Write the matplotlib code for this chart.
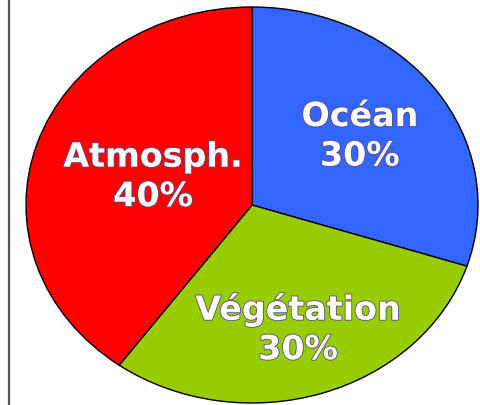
import numpy as np
import matplotlib
matplotlib.use('AGG')
import matplotlib.pyplot as plt
import matplotlib.patheffects as pe
from matplotlib.lines import Line2D

# data
labels = ['Océan', 'Végétation', 'Atmosph.']
shares = [30, 30, 40]
colors = ['#3366ff', '#99cc00', '#ff0000']
label_dist = [0.59, 0.66, 0.46]   # how far from the centre each label sits

fig = plt.figure(figsize=(4.81, 4.05), dpi=100)
ax = fig.add_axes([0, 0, 1, 1])

wedges, _ = ax.pie(shares, colors=colors, startangle=90, counterclock=False,
                   wedgeprops=dict(edgecolor='black', linewidth=1.0))
ax.set_aspect('auto')
# stretch the pie into an ellipse, like the original
ax.set_xlim(-252 / 226, (481 - 252) / 226)
ax.set_ylim(-(405 - 205) / 198, 205 / 198)
ax.axis('off')

for w, lab, s, d in zip(wedges, labels, shares, label_dist):
    mid = np.deg2rad((w.theta1 + w.theta2) / 2)
    ax.text(d * np.cos(mid), d * np.sin(mid), '%s\n%d%%' % (lab, s),
            ha='center', va='center', color='white', fontsize=24,
            fontweight='bold', family='DejaVu Sans', linespacing=1.25,
            path_effects=[pe.withStroke(linewidth=1.2, foreground='#5a4a8a')])

# the thin frame line on the left
fig.add_artist(Line2D([8.5 / 481, 8.5 / 481], [0, 1], color='#555555', linewidth=1.6))

plt.savefig('out.png', dpi=100)
